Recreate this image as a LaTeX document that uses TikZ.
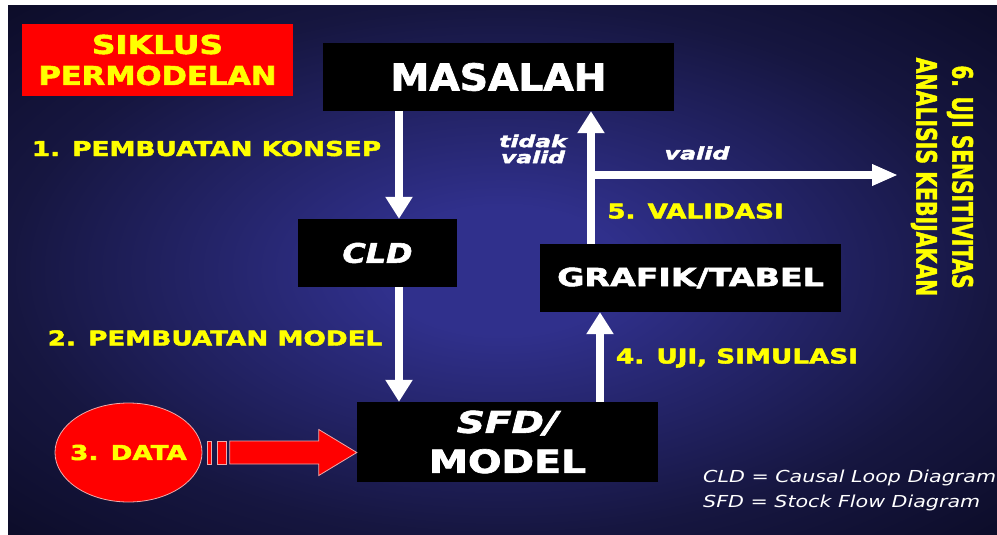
\documentclass[tikz,border=0pt]{standalone}
\usepackage{fontspec}
\setmainfont{DejaVu Sans}[BoldFeatures={FakeBold=2},BoldItalicFeatures={FakeBold=2}]
\usepackage{graphicx}
\usetikzlibrary{arrows.meta,shapes.geometric,calc}
\definecolor{bgA}{RGB}{48,48,140}
\definecolor{bgB}{RGB}{22,22,64}
\definecolor{bgC}{RGB}{12,12,40}
\definecolor{yel}{RGB}{255,255,0}
\definecolor{pinkline}{RGB}{240,170,170}
\pgfdeclareradialshading{bgsh}{\pgfpointorigin}{color(0bp)=(bgA); color(6bp)=(bgA); color(25bp)=(bgB); color(36bp)=(bgC); color(50bp)=(bgC)}
\newcommand\shtx[2]{\textcolor{#1}{#2}}
\newcommand\ylab[1]{\scalebox{1.28}[1]{\shtx{yel}{#1}}}
\tikzset{
  blackbox/.style={fill=black, draw=none, inner sep=0pt, text=white, align=center},
  ylabel/.style={font=\fontsize{20.5}{24}\selectfont\bfseries, inner sep=0pt, anchor=base},
  warrow/.style={draw=white, line width=8pt, -{Triangle[width=26pt,length=22pt]}},
  harrow/.style={draw=white, line width=8pt, -{Triangle[width=20pt,length=26pt]}},
  redshape/.style={fill=red, draw=pinkline, line width=0.8pt},
}
\begin{document}
\begin{tikzpicture}[x=1pt,y=-1pt]
\useasboundingbox (0,0) rectangle (997,535);
\fill[white] (0,0) rectangle (997,535);
\shade[shading=bgsh] (8,6) rectangle (997,535);

% title
\node[fill=red, minimum width=271pt, minimum height=72pt, inner sep=0pt, align=center,
      font=\fontsize{26}{31}\selectfont\bfseries] (title) at (157.5,60)
  {\scalebox{1.26}[1]{\shtx{yel}{SIKLUS}}\\\scalebox{1.175}[1]{\shtx{yel}{PERMODELAN}}};

% boxes
\node[blackbox, minimum width=351pt, minimum height=68pt, font=\fontsize{37}{40}\selectfont\bfseries]
  (masalah) at (498.5,77) {\scalebox{1.06}[1]{MASALAH}};
\node[blackbox, minimum width=159pt, minimum height=68pt, font=\fontsize{27}{30}\selectfont\bfseries\itshape]
  (cld) at (377.5,253) {\scalebox{1.18}[1]{CLD}};
\node[blackbox, minimum width=301pt, minimum height=80pt, font=\fontsize{32}{40}\selectfont\bfseries]
  (sfd) at (507.5,442) {{\fontsize{30}{40}\selectfont\itshape\scalebox{1.3}[1]{SFD/}}\\\scalebox{1.23}[1]{MODEL}};
\node[blackbox, minimum width=301pt, minimum height=68pt, font=\fontsize{25}{28}\selectfont\bfseries]
  (grafik) at (690.5,278) {\scalebox{1.33}[1]{GRAFIK/TABEL}};

% data ellipse
\node[ellipse, fill=red, draw=pinkline, line width=0.8pt, minimum width=147pt, minimum height=99pt,
      inner sep=0pt, font=\fontsize{20.5}{24}\selectfont\bfseries] (data) at (128.5,452.5)
  {\makebox[0pt]{\ylab{3. DATA}}};

% yellow labels
\node[ylabel] (l1) at (206.5,156) {\ylab{1. PEMBUATAN KONSEP}};
\node[ylabel] (l2) at (215,345.5) {\ylab{2. PEMBUATAN MODEL}};
\node[ylabel] (l4) at (737,363.5) {\ylab{4. UJI, SIMULASI}};
\node[ylabel] (l5) at (695.5,218.5) {\ylab{5. VALIDASI}};

% vertical text
\node[rotate=-90, align=center, inner sep=0pt, font=\fontsize{28}{36}\selectfont\bfseries] (uji) at (942,177)
  {\scalebox{0.72}[1]{\shtx{yel}{6. UJI SENSITIVITAS}}\\\scalebox{0.73}[1]{\shtx{yel}{ANALISIS KEBIJAKAN}}};

% tidak valid / valid
\node[font=\fontsize{16.5}{16}\selectfont\bfseries\itshape, align=center, inner sep=0pt, text=white] (tv) at (533,149)
  {\scalebox{1.42}[1]{tidak}\\\scalebox{1.42}[1]{valid}};
\node[font=\fontsize{17}{20}\selectfont\bfseries\itshape, inner sep=0pt, text=white] (vl) at (697,153)
  {\scalebox{1.4}[1]{valid}};

% legend
\node[anchor=base west, inner sep=0pt, font=\fontsize{16.5}{18}\selectfont\itshape, text=white] (lg1) at (703,482)
  {\scalebox{1.25}[1]{CLD = Causal Loop Diagram}};
\node[anchor=base west, inner sep=0pt, font=\fontsize{16.5}{18}\selectfont\itshape, text=white] (lg2) at (703,507)
  {\scalebox{1.25}[1]{SFD = Stock Flow Diagram}};

% connectors
\coordinate (xa) at (399,0);
\coordinate (xb) at (591,0);
\coordinate (xc) at (600,0);
\draw[warrow] (masalah.south -| xa) -- (cld.north -| xa);
\draw[warrow] (cld.south -| xa) -- (sfd.north -| xa);
\draw[warrow] (sfd.north -| xc) -- (grafik.south -| xc);
\draw[warrow] (grafik.north -| xb) -- (masalah.south -| xb);
\coordinate (vs) at (587,175);
\coordinate (ve) at (898,175);
\draw[harrow] (vs) -- (ve);

% red block arrow from data to sfd
\coordinate (tip) at (sfd.west |- data.center);
\path[redshape, shift={(tip)}] (-127,-11.5) -- (-38,-11.5) -- (-38,-23) -- (0,0) -- (-38,23) -- (-38,11.5) -- (-127,11.5) -- cycle;
\path[redshape, shift={(tip)}] (-149,-11.5) rectangle (-145,11.5);
\path[redshape, shift={(tip)}] (-139,-11.5) rectangle (-130,11.5);
\end{tikzpicture}
\end{document}
